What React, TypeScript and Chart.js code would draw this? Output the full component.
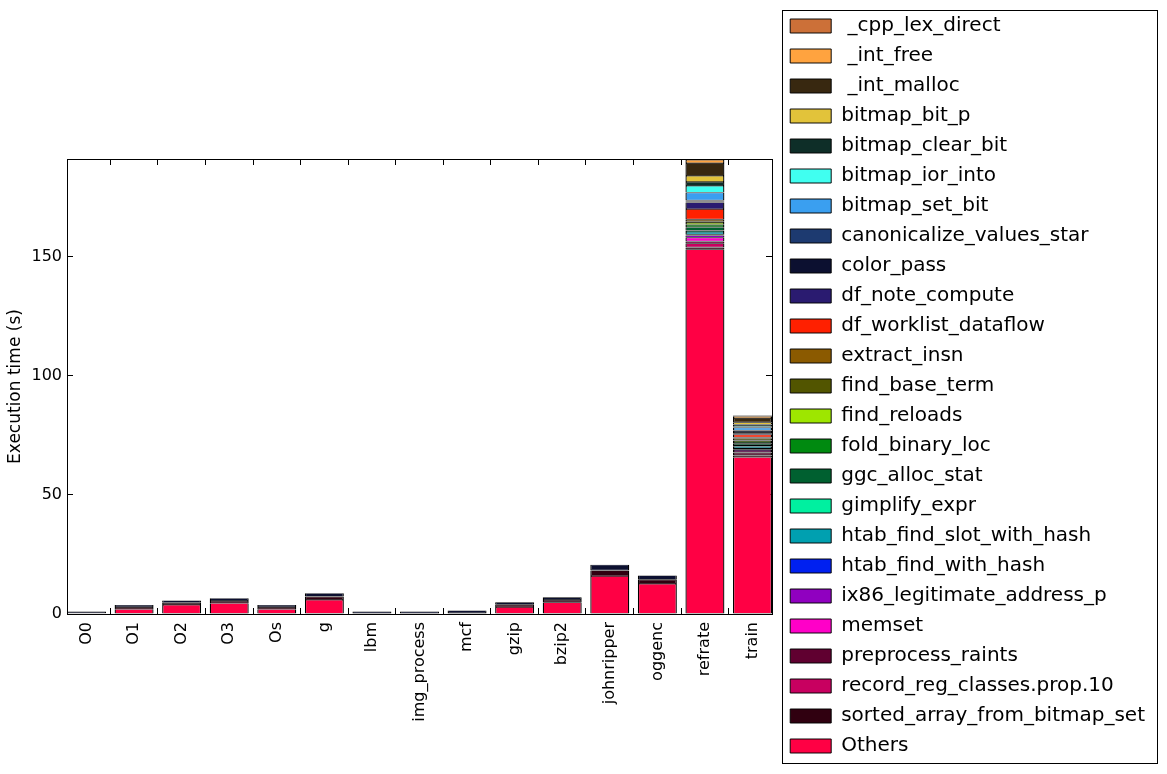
import React, { useEffect, useRef } from 'react';
import { Chart, registerables } from 'chart.js';

Chart.register(...registerables);

const categories = ['O0', 'O1', 'O2', 'O3', 'Os', 'g', 'lbm', 'img_process', 'mcf', 'gzip', 'bzip2', 'johnripper', 'oggenc', 'refrate', 'train'];

// Stack order: bottom (Others) to top (_cpp_lex_direct)
const others =            [0.3, 2.0, 3.8, 4.5, 2.0, 5.9, 0.2, 0.2, 0.4, 2.9, 4.9, 15.9, 12.6, 153.0, 65.8];
const sortedArray =       [0, 0.9, 0.9, 1.0, 0.9, 1.4, 0, 0, 0, 1.0, 1.0, 2.4, 1.8, 0.8, 0.7];
const recordRegClasses =  [0, 0, 0, 0, 0, 0, 0, 0, 0, 0, 0, 0, 0, 1.7, 0.6];
const preprocessRaints =  [0, 0, 0, 0, 0, 0, 0, 0, 0, 0, 0, 0, 0, 0.8, 0.7];
const memsetV =           [0, 0, 0, 0, 0, 0, 0, 0, 0, 0, 0, 0, 0, 1.6, 0.6];
const ix86Legit =         [0, 0, 0, 0, 0, 0, 0, 0, 0, 0, 0, 0, 0, 0.9, 0.7];
const htabFindWithHash =  [0, 0, 0, 0, 0, 0, 0, 0, 0, 0, 0, 0, 0, 0.5, 0.5];
const htabFindSlot =      [0, 0, 0, 0, 0, 0, 0, 0, 0, 0, 0, 0, 0, 1.0, 0.8];
const gimplifyExpr =      [0, 0, 0, 0, 0, 0, 0, 0, 0, 0, 0, 0, 0, 0.6, 0.5];
const ggcAllocStat =      [0, 0, 0, 0, 0, 0, 0, 0, 0, 0, 0, 0, 0, 1.4, 0.7];
const foldBinaryLoc =     [0, 0, 0, 0, 0, 0, 0, 0, 0, 0, 0, 0, 0, 1.0, 0.6];
const findReloads =       [0, 0, 0, 0, 0, 0, 0, 0, 0, 0, 0, 0, 0, 0.8, 0.6];
const findBaseTerm =      [0, 0, 0, 0, 0, 0, 0, 0, 0, 0, 0, 0, 0, 0.7, 0.7];
const extractInsn =       [0, 0, 0, 0, 0, 0, 0, 0, 0, 0, 0, 0, 0, 0.8, 0.6];
const dfWorklist =        [0, 0, 0, 0, 0, 0, 0, 0, 0, 0, 0, 0, 0, 4.3, 1.1];
const dfNoteCompute =     [0, 0, 0, 0, 0, 0, 0, 0, 0, 0, 0, 0, 0, 2.8, 0.6];
const colorPass =         [0.7, 0.9, 1.0, 1.1, 0.9, 1.4, 0.8, 0.8, 1.1, 1.0, 1.1, 2.4, 1.8, 0.4, 0.6];
const canonicalize =      [0, 0, 0, 0, 0, 0, 0, 0, 0, 0, 0, 0, 0, 0.4, 0.6];
const bitmapSetBit =      [0, 0, 0, 0, 0, 0, 0, 0, 0, 0, 0, 0, 0, 3.3, 1.2];
const bitmapIorInto =     [0, 0, 0, 0, 0, 0, 0, 0, 0, 0, 0, 0, 0, 2.8, 0.6];
const bitmapClearBit =    [0, 0, 0, 0, 0, 0, 0, 0, 0, 0, 0, 0, 0, 1.7, 0.7];
const bitmapBitP =        [0, 0, 0, 0, 0, 0, 0, 0, 0, 0, 0, 0, 0, 2.5, 0.9];
const intMalloc =         [0, 0, 0, 0, 0, 0, 0, 0, 0, 0, 0, 0, 0, 5.4, 1.8];
const intFree =           [0, 0, 0, 0, 0, 0, 0, 0, 0, 0, 0, 0, 0, 1.3, 0.8];
const cppLexDirect =      [0, 0, 0, 0, 0, 0, 0, 0, 0, 0, 0, 0, 0, 0.4, 0.3];

const seriesNames = [
  'Others', 'sorted_array_from_bitmap_set', 'record_reg_classes.prop.10', 'preprocess_raints', 'memset',
  'ix86_legitimate_address_p', 'htab_find_with_hash', 'htab_find_slot_with_hash', 'gimplify_expr', 'ggc_alloc_stat',
  'fold_binary_loc', 'find_reloads', 'find_base_term', 'extract_insn', 'df_worklist_dataflow', 'df_note_compute',
  'color_pass', 'canonicalize_values_star', 'bitmap_set_bit', 'bitmap_ior_into', 'bitmap_clear_bit', 'bitmap_bit_p',
  ' _int_malloc', ' _int_free', ' _cpp_lex_direct',
];

const seriesColors = [
  '#ff0044', '#300010', '#c80060', '#600030', '#ff00c8',
  '#9000c0', '#0020f0', '#00a0b0', '#00f0a0', '#006030',
  '#008a10', '#9ee600', '#525500', '#8b5a00', '#ff2000', '#2a1b70',
  '#0c1030', '#1d3a70', '#3a9ff0', '#40fff0', '#0e2e28', '#e2c33a',
  '#382810', '#ffa33f', '#cc7038',
];

const seriesValues = [
  others, sortedArray, recordRegClasses, preprocessRaints, memsetV,
  ix86Legit, htabFindWithHash, htabFindSlot, gimplifyExpr, ggcAllocStat,
  foldBinaryLoc, findReloads, findBaseTerm, extractInsn, dfWorklist, dfNoteCompute,
  colorPass, canonicalize, bitmapSetBit, bitmapIorInto, bitmapClearBit, bitmapBitP,
  intMalloc, intFree, cppLexDirect,
];

const yTitle = 'Execution time (s)';
const FONT = 'DejaVu Sans';
const PAD_RIGHT = 12;

export default function App() {
  const ref = useRef<HTMLCanvasElement>(null);

  useEffect(() => {
    if (!ref.current) return;
    const totals = categories.map((_, i) => seriesValues.reduce((s, arr) => s + arr[i], 0));
    const yMax = Math.max(...totals);
    const xMin = -0.41;
    const xMax = categories.length - 1 + 0.41;

    const datasets = seriesNames.map((name, k) => ({
      label: name,
      data: seriesValues[k].map((v, i) => ({ x: i, y: v })),
      backgroundColor: seriesColors[k],
      borderColor: '#000000',
      borderWidth: { top: 0.6, bottom: 0.6, left: 1.3, right: 1.3 },
      borderSkipped: false,
      inflateAmount: 0,
      barThickness: 39,
    }));

    const legendFrame = {
      id: 'legendFrame',
      afterDraw(chart: any) {
        const lg = chart.legend;
        if (!lg) return;
        const ctx = chart.ctx;
        ctx.save();
        ctx.strokeStyle = '#000';
        ctx.lineWidth = 1;
        const left = Math.round(lg.left + 2) + 0.5;
        const right = chart.width - 9.5;
        ctx.strokeRect(left, 10.5, right - left, 753);
        ctx.restore();
      },
    };

    const tickFont = { family: FONT, size: 16 };

    const chart = new Chart(ref.current, {
      type: 'bar',
      data: { datasets },
      options: {
        animation: false,
        responsive: false,
        layout: { padding: { top: 6, bottom: 6, left: 0, right: PAD_RIGHT } },
        plugins: {
          tooltip: { enabled: false },
          legend: {
            position: 'right',
            align: 'start',
            reverse: true,
            maxWidth: 420,
            labels: {
              boxWidth: 41,
              boxHeight: 14,
              padding: 10,
              color: '#000',
              font: { family: FONT, size: 20 },
            },
          },
        },
        scales: {
          x: {
            type: 'linear',
            position: 'bottom',
            stacked: true,
            min: xMin,
            max: xMax,
            offset: false,
            ticks: {
              stepSize: 1,
              autoSkip: false,
              includeBounds: false,
              maxTicksLimit: 30,
              minRotation: 90,
              maxRotation: 90,
              padding: 14,
              color: '#000',
              font: tickFont,
              callback: (v: any) => categories[v as number] ?? '',
            },
            grid: { drawOnChartArea: false, drawTicks: true, tickLength: -6, color: '#000' },
            border: { display: true, color: '#000', width: 1 },
            afterFit: (s: any) => { s.height = 154; },
          },
          x2: {
            type: 'linear',
            position: 'top',
            min: xMin,
            max: xMax,
            offset: false,
            ticks: { display: false, stepSize: 1, includeBounds: false, maxTicksLimit: 30 },
            grid: { drawOnChartArea: false, drawTicks: true, tickLength: -6, color: '#000' },
            border: { display: true, color: '#000', width: 1 },
            afterFit: (s: any) => { s.height = 153; },
          },
          y: {
            type: 'linear',
            position: 'left',
            stacked: true,
            min: 0,
            max: yMax,
            ticks: {
              stepSize: 50,
              includeBounds: false,
              padding: 11,
              color: '#000',
              font: tickFont,
            },
            grid: { drawOnChartArea: false, drawTicks: true, tickLength: -6, color: '#000' },
            border: { display: true, color: '#000', width: 1 },
            title: {
              display: true,
              text: yTitle,
              color: '#000',
              font: { family: FONT, size: 17 },
              padding: { top: 5, bottom: 0 },
            },
            afterFit: (s: any) => { s.width = 67; },
          },
          y2: {
            type: 'linear',
            position: 'right',
            min: 0,
            max: yMax,
            ticks: { display: false, stepSize: 50, includeBounds: false },
            grid: { drawOnChartArea: false, drawTicks: true, tickLength: -6, color: '#000' },
            border: { display: true, color: '#000', width: 1 },
            afterFit: (s: any) => {
              const lg = s.chart.legend;
              const lw = lg ? lg.width : 375;
              s.width = Math.max(0, s.chart.width - PAD_RIGHT - lw - 772);
            },
          },
        },
      },
      plugins: [legendFrame],
    } as any);

    return () => chart.destroy();
  }, []);

  return (
    <div style={{ position: 'absolute', left: 0, top: 0, width: 1167, height: 774, background: '#fff' }}>
      <canvas ref={ref} width={1167} height={774} style={{ display: 'block' }} />
    </div>
  );
}
